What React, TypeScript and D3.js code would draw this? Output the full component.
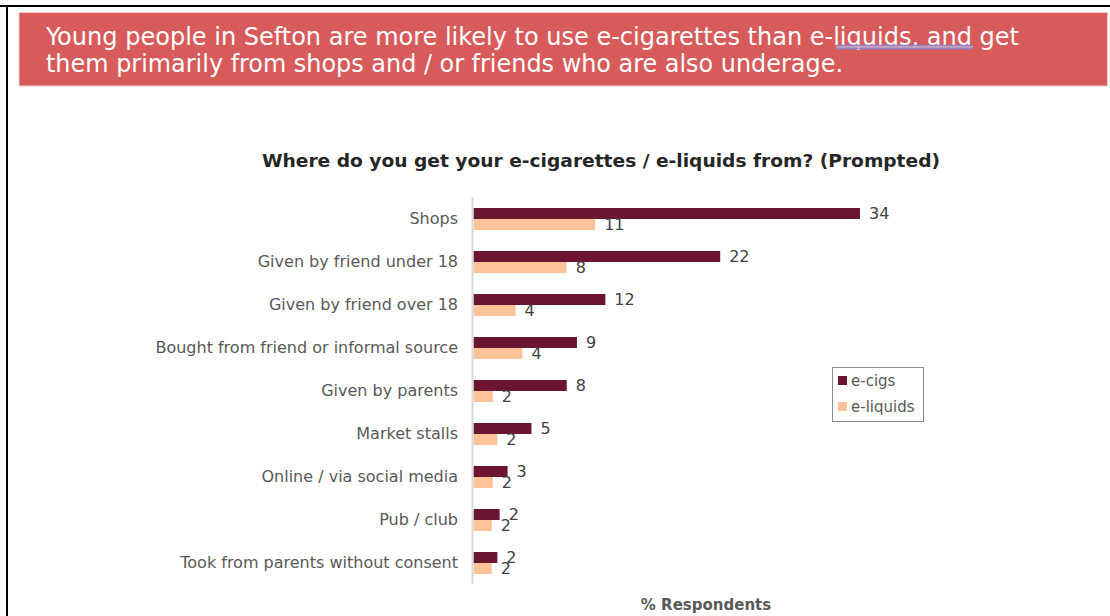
import React from "react";
import * as d3 from "d3";

const categories = [
  "Shops",
  "Given by friend under 18",
  "Given by friend over 18",
  "Bought from friend or informal source",
  "Given by parents",
  "Market stalls",
  "Online / via social media",
  "Pub / club",
  "Took from parents without consent",
];
const eCigs = [34.0, 21.7, 11.6, 9.1, 8.2, 5.1, 3.0, 2.3, 2.1];
const eLiquids = [10.7, 8.2, 3.7, 4.3, 1.7, 2.1, 1.7, 1.6, 1.6];
const seriesNames = ["e-cigs", "e-liquids"];
const seriesColors = ["#6c1530", "#ffc299"];

const headerLines = [
  "Young people in Sefton are more likely to use e-cigarettes than e-liquids, and get",
  "them primarily from shops and / or friends who are also underage.",
];
const chartTitle = "Where do you get your e-cigarettes / e-liquids from? (Prompted)";
const axisTitle = "% Respondents";

const FONT = "'DejaVu Sans', Verdana, sans-serif";
const HEAD_FONT = "'DejaVu Sans Condensed', 'DejaVu Sans', Tahoma, sans-serif";

export default function App() {
  const W = 1110;
  const H = 616;
  const x = d3.scaleLinear().domain([0, 34]).range([473.5, 860]);
  const y = d3
    .scaleBand<string>()
    .domain(categories)
    .range([197.5, 584.5])
    .paddingInner(0.488)
    .paddingOuter(0.244);
  const bw = y.bandwidth() / 2;
  const series = [eCigs, eLiquids];

  return (
    <div style={{ position: "absolute", left: 0, top: 0 }}>
      <svg width={W} height={H} style={{ display: "block", background: "#fff" }}>
        {/* frame */}
        <line x1={0} x2={W} y1={6} y2={6} stroke="#000" strokeWidth={2} />
        <line x1={7} x2={7} y1={5} y2={H} stroke="#000" strokeWidth={2} />
        {/* header */}
        <rect x={19} y={12.5} width={1088.5} height={73.5} fill="#d75b5b" stroke="#f3c9c9" strokeWidth={1} />
        {headerLines.map((t, i) => (
          <text
            key={i}
            x={46}
            y={45 + i * 27}
            fill="#fff"
            fontFamily={HEAD_FONT}
            fontSize={24}
            textLength={i === 0 ? 973 : 797}
            lengthAdjust="spacingAndGlyphs"
          >
            {t}
          </text>
        ))}
        <line x1={836} x2={973} y1={45.5} y2={45.5} stroke="#8a86c8" strokeWidth={1.3} />
        <line x1={836} x2={973} y1={47} y2={47} stroke="#c9b3d6" strokeWidth={1.3} />
        <line x1={836} x2={973} y1={48.5} y2={48.5} stroke="#8a86c8" strokeWidth={1.3} />

        {/* chart title */}
        <text
          x={601}
          y={167}
          textAnchor="middle"
          fill="#262626"
          fontFamily={FONT}
          fontWeight="bold"
          fontSize={17}
          textLength={678}
          lengthAdjust="spacingAndGlyphs"
        >
          {chartTitle}
        </text>

        {/* category labels */}
        {categories.map((c) => (
          <text
            key={c}
            x={458}
            y={(y(c) ?? 0) + bw - 1}
            dy="0.35em"
            textAnchor="end"
            fill="#595959"
            fontFamily={FONT}
            fontSize={16}
          >
            {c}
          </text>
        ))}

        {/* bars */}
        {series.map((vals, si) =>
          categories.map((c, i) => (
            <rect
              key={`${si}-${c}`}
              x={x(0)}
              y={(y(c) ?? 0) + si * bw}
              width={x(vals[i]) - x(0)}
              height={bw}
              fill={seriesColors[si]}
            />
          ))
        )}
        {/* value labels */}
        {series.map((vals, si) =>
          categories.map((c, i) => (
            <text
              key={`l${si}-${c}`}
              x={x(vals[i]) + 9}
              y={(y(c) ?? 0) + si * bw + bw / 2}
              dy="0.35em"
              fill="#404040"
              fontFamily={FONT}
              fontSize={16}
            >
              {Math.round(vals[i])}
            </text>
          ))
        )}

        {/* axis line */}
        <line x1={x(0) - 1} x2={x(0) - 1} y1={197} y2={584} stroke="#d9d9d9" strokeWidth={2} />

        {/* legend */}
        <rect x={832.5} y={367.5} width={91} height={54} fill="#fff" stroke="#8c8c8c" strokeWidth={1} />
        {seriesNames.map((n, i) => (
          <g key={n}>
            <rect x={838} y={376 + i * 26} width={9} height={9} fill={seriesColors[i]} />
            <text
              x={851}
              y={381 + i * 26}
              dy="0.35em"
              fill="#595959"
              fontFamily={FONT}
              fontSize={15}
            >
              {n}
            </text>
          </g>
        ))}

        {/* axis title */}
        <text
          x={706}
          y={605}
          dy="0.35em"
          textAnchor="middle"
          fill="#595959"
          fontFamily={FONT}
          fontWeight="bold"
          fontSize={15}
        >
          {axisTitle}
        </text>
      </svg>
    </div>
  );
}
